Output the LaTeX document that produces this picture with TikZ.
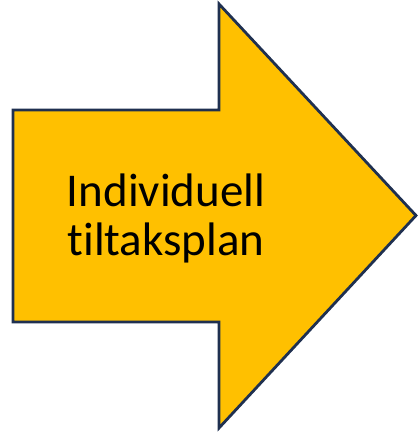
\documentclass[tikz,border=0pt]{standalone}
\usepackage{fontspec}
\setmainfont[Ligatures=NoCommon]{Carlito}
\usepackage{xcolor}
\definecolor{arrowfill}{HTML}{FFC000}
\definecolor{arrowline}{HTML}{1F3050}

\begin{document}
\begin{tikzpicture}[x=1pt,y=1pt]
        \useasboundingbox (0,0) rectangle (418,433);

        % big block arrow
        \draw[fill=arrowfill, draw=arrowline, line width=2.8pt, line join=miter]
            (13,323) -- (219,323) -- (219,429) -- (416,217.5)
            -- (219,5) -- (219,111) -- (13,111) -- cycle;

        \node[align=center, font=\fontsize{47}{49}\selectfont] (label) at (166,215)
            {Individuell\\tiltaksplan};
    \end{tikzpicture}
\end{document}
